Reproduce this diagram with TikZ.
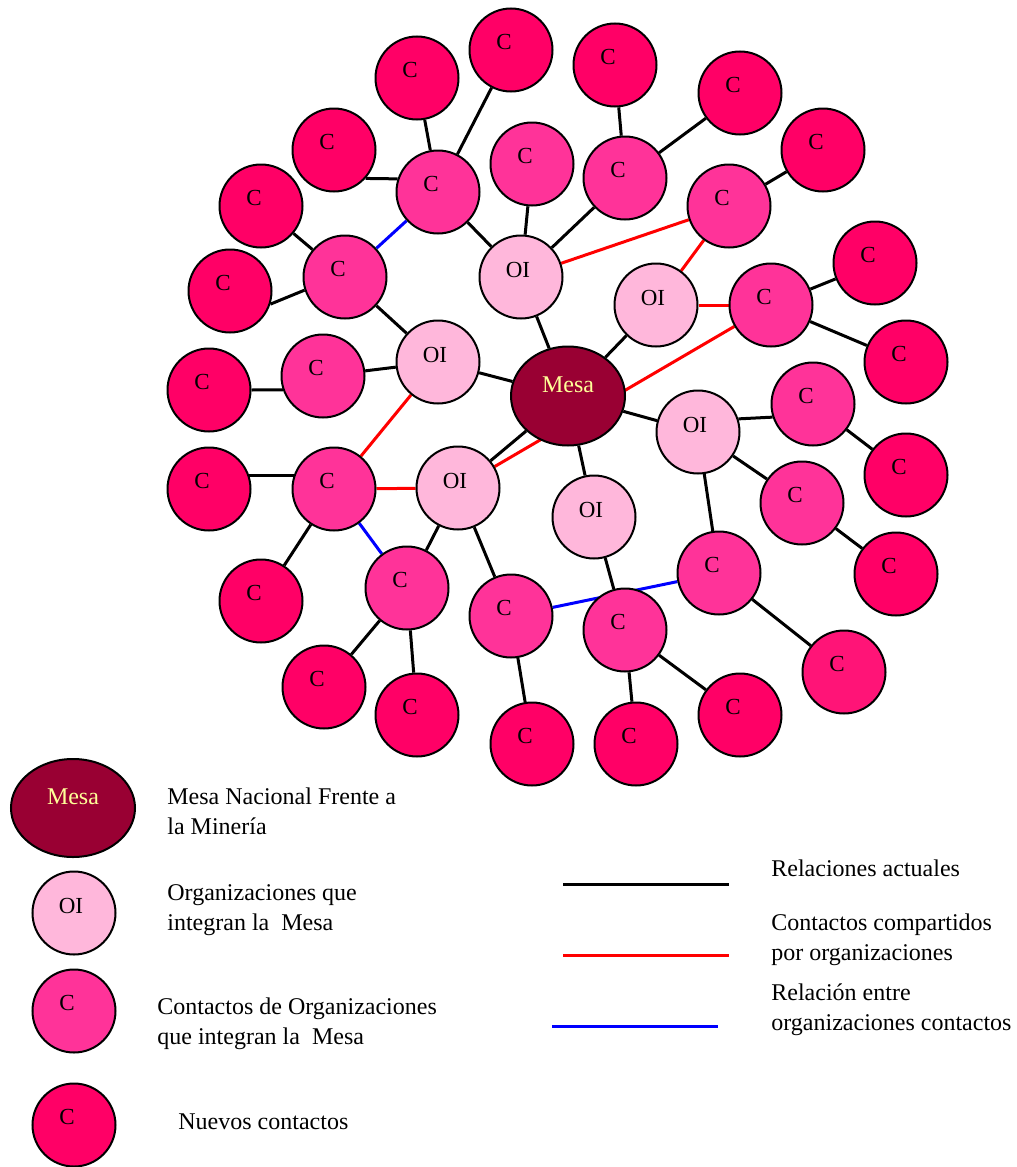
\documentclass[tikz,border=0pt]{standalone}
\usepackage{fontspec}
\setmainfont{Liberation Serif}
\usetikzlibrary{shapes.geometric}
\definecolor{mesared}{HTML}{990033}
\definecolor{mesatext}{HTML}{FFFF99}
\definecolor{oipink}{HTML}{FFB7DB}
\definecolor{contpink}{HTML}{FF3399}
\definecolor{newpink}{HTML}{FF0066}
\definecolor{newpinkb}{HTML}{FF1477}
\pgfdeclarelayer{bg}
\pgfsetlayers{bg,main}
\tikzset{
  disc/.style={circle, draw, line width=1pt, minimum size=41.5pt, inner sep=0pt,
    font=\fontsize{11.5}{12}\selectfont},
  oi/.style={disc, fill=oipink, text depth=7pt, execute at end node=\hspace{3pt}},
  cont/.style={disc, fill=contpink, text depth=8pt, execute at end node=\hspace{7pt}},
  newc/.style={disc, fill=newpink, text depth=8pt, execute at end node=\hspace{7pt}},
  mesa/.style={ellipse, draw, line width=1pt, fill=mesared, text=mesatext, inner sep=0pt,
    font=\fontsize{12}{14}\selectfont, text depth=11pt},
  rel/.style={line width=1.5pt},
  shared/.style={line width=1.5pt, red},
  link/.style={line width=1.5pt, blue},
  legtext/.style={anchor=west, align=left, inner sep=0pt, font=\fontsize{12}{14.8}\selectfont}
}
\begin{document}
\begin{tikzpicture}[x=0.5pt, y=-0.5pt]
\useasboundingbox (0,0) rectangle (1017,1167);

\node[mesa, minimum width=57pt, minimum height=49.5pt] (mesa) at (568,396) {Mesa};

\node[oi] (oi1) at (521,277) {OI};
\node[oi] (oi2) at (656,305) {OI};
\node[oi] (oi3) at (438,362) {OI};
\node[oi] (oi4) at (458,488) {OI};
\node[oi] (oi5) at (594,517) {OI};
\node[oi] (oi6) at (698,432) {OI};

\node[cont] (c1) at (438,192) {C};
\node[cont] (c2) at (345,277) {C};
\node[cont] (c3) at (532,164) {C};
\node[cont] (c4) at (625,178) {C};
\node[cont] (c5) at (729,206) {C};
\node[cont] (c6) at (771,305) {C};
\node[cont] (c7) at (323,376) {C};
\node[cont] (c8) at (334,489) {C};
\node[cont] (c9) at (407,588) {C};
\node[cont] (c10) at (511,616) {C};
\node[cont] (c11) at (625,630) {C};
\node[cont] (c12) at (719,573) {C};
\node[cont] (c13) at (802,503) {C};
\node[cont] (c14) at (813,404) {C};

\node[newc] (n1) at (417,78) {C};
\node[newc] (n2) at (511,50) {C};
\node[newc] (n3) at (334,150) {C};
\node[newc] (n4) at (261,206) {C};
\node[newc] (n5) at (230,291) {C};
\node[newc] (n6) at (615,65) {C};
\node[newc] (n7) at (740,93) {C};
\node[newc] (n8) at (823,150) {C};
\node[newc] (n9) at (875,263) {C};
\node[newc] (n10) at (906,362) {C};
\node[newc] (n11) at (906,475) {C};
\node[newc] (n12) at (896,574) {C};
\node[newc, fill=newpinkb] (n13) at (844,672) {C};
\node[newc] (n14) at (740,715) {C};
\node[newc] (n15) at (636,744) {C};
\node[newc] (n16) at (532,744) {C};
\node[newc] (n17) at (417,715) {C};
\node[newc] (n18) at (324,687) {C};
\node[newc] (n19) at (261,601) {C};
\node[newc] (n20) at (209,489) {C};
\node[newc] (n21) at (209,390) {C};

\begin{pgfonlayer}{bg}
\foreach \a/\b in {n1/c1, n2/c1, n3.-42/c1.162, c1/oi1, n4/c2, n5.-18/c2.198,
    c2/oi3, c3/oi1, c4/oi1, n6/c4, n7/c4, n8/c5, oi1/mesa, oi2/mesa, c7/oi3,
    n21.east/c7.199, oi3/mesa, n20.18/c8.162, c8/n19, mesa/oi4, mesa/oi5,
    mesa/oi6, oi4/c9, oi4/c10, c9/n18, c9/n17, c10/n16, oi5/c11, c11/n15,
    c11/n14, oi6/c12, oi6.18/c14.198, oi6/c13, c12/n13, c13/n12, c14/n11,
    c6/n9, c6/n10}
  \draw[rel] (\a) -- (\b);
\foreach \a/\b in {oi1/c5, oi2/c5, oi2/c6, oi4/c6, c8/oi4, c8/oi3}
  \draw[shared] (\a) -- (\b);
\foreach \a/\b in {c2/c1, c8/c9, c10/c12}
  \draw[link] (\a) -- (\b);
\end{pgfonlayer}

%%%%%%%%%%%%%%%%%%%%%%%%%%%%%%%%%%%%%%%%

\node[mesa, minimum width=62pt, minimum height=49pt] (legmesa) at (73,808) {Mesa};
\node[oi] (legoi) at (74,913) {OI};
\node[cont] (legcont) at (74,1011) {C};
\node[newc] (legnew) at (74,1125) {C};

\node[legtext] (tmesa) at (167,811) {Mesa Nacional Frente a\\la Minería};
\node[legtext] (toi) at (167,910) {Organizaciones que\\integran la\ \ Mesa};
\node[legtext] (tcont) at (157,1024) {Contactos de Organizaciones\\que integran la\ \ Mesa};
\node[legtext] (tnew) at (178,1122) {Nuevos contactos};

\coordinate (rel1) at (563,884);
\coordinate (rel2) at (729,884);
\coordinate (shared1) at (563,955);
\coordinate (shared2) at (729,955);
\coordinate (link1) at (552,1026);
\coordinate (link2) at (718,1026);
\draw[rel] (rel1) -- (rel2);
\draw[shared] (shared1) -- (shared2);
\draw[link] (link1) -- (link2);

\node[legtext] (trel) at (771,868) {Relaciones actuales};
\node[legtext] (tshared) at (771,940) {Contactos compartidos\\por organizaciones};
\node[legtext] (tlink) at (771,1010) {Relación entre\\organizaciones contactos};
\end{tikzpicture}
\end{document}
